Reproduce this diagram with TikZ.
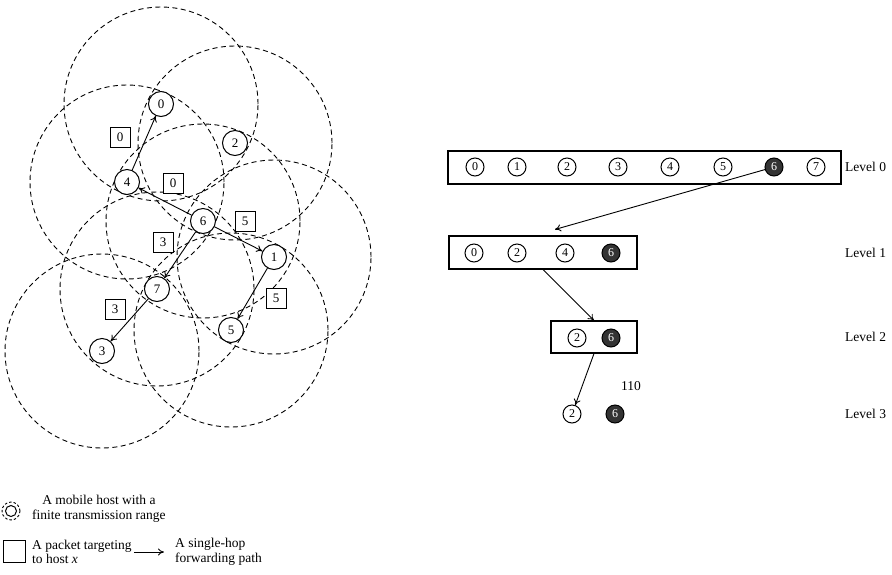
\documentclass[tikz,border=0pt]{standalone}
\usepackage{fontspec}
\setmainfont{Liberation Serif}
\usetikzlibrary{
  arrows.meta,
  calc,
}
\tikzset{
  reach/.style={dash pattern=on 5pt off 3.5pt, line width=0.9pt},
  host/.style={circle, draw, fill=white, line width=1pt, minimum size=25pt, inner sep=0pt, font=\fontsize{13}{15}\selectfont},
  packet/.style={rectangle, draw, fill=white, line width=1pt, minimum size=20pt, inner sep=0pt, font=\fontsize{13}{15}\selectfont},
  hop/.style={-{To[length=6pt,width=7pt]}, line width=0.9pt},
  slot/.style={circle, draw, fill=white, line width=1pt, minimum size=18pt, inner sep=0pt, font=\fontsize{12}{14}\selectfont},
  hot/.style={slot, fill=black!80, text=white},
  tier/.style={rectangle, draw, line width=1.1pt, minimum height=33pt, inner sep=0pt},
  caption/.style={anchor=west, inner sep=2pt, font=\fontsize{13.5}{14.5}\selectfont},
}
\def\hostlist{0/161/104, 1/274/257, 2/235/143, 3/102/351, 4/127/182, 5/231/330, 6/203/221, 7/157/289}

\begin{document}
\begin{tikzpicture}[x=1pt, y=-1pt, font=\fontsize{13.5}{15}\selectfont]
\useasboundingbox (0,0) rectangle (892,574);
\foreach \n/\x/\y in \hostlist {\draw[reach] (\x,\y) circle[radius=97pt];}
\foreach \n/\x/\y in \hostlist {\node[host] (h\n) at (\x,\y) {\n};}
\node[packet] (p0a) at (120,137) {0};
\node[packet] (p0b) at (173,183) {0};
\node[packet] (p5a) at (245,221) {5};
\node[packet] (p3a) at (163,242) {3};
\node[packet] (p3b) at (115,309) {3};
\node[packet] (p5b) at (276,298) {5};
\foreach \a/\b in {4/0, 6/4, 6/1, 6/7, 7/3, 1/5} \draw[hop] (h\a) -- (h\b);

\node[tier, minimum width=393pt] (L0) at (644.5,167.5) {};
\node[tier, minimum width=188pt] (L1) at (543,252.5) {};
\node[tier, minimum width=86pt, minimum height=32pt] (L2) at (594,337) {};
\foreach \n/\x/\s in {0/475/slot, 1/517/slot, 2/567/slot, 3/618/slot, 4/670/slot, 5/723/slot, 6/774/hot, 7/816/slot} \node[\s] (a\n) at (\x,167) {\n};
\foreach \n/\x/\s in {0/474/slot, 2/517/slot, 4/565/slot, 6/611/hot} \node[\s] (b\n) at (\x,253) {\n};
\foreach \n/\x/\s in {2/577/slot, 6/611/hot} \node[\s] (c\n) at (\x,338) {\n};
\foreach \n/\x/\s in {2/572/slot, 6/615/hot} \node[\s] (d\n) at (\x,414) {\n};
\node (code) at (631,386) {110};
\foreach \k/\y in {0/167, 1/253, 2/337, 3/414} \node[caption] (lv\k) at (843,\y) {Level \k};
\draw[hop] (a6) -- ($(L1.north)+(12,-6)$);
\draw[hop] (L1.south) -- (L2.north);
\draw[hop] (L2.south) -- (d2);

\node[circle, draw, line width=1pt, minimum size=11pt, inner sep=0pt] (lh) at (11,511) {};
\draw[reach, dash pattern=on 2.5pt off 2pt] (lh) circle[radius=9pt];
\node[caption, align=center] (lht) at (30,509) {A mobile host with a\\finite transmission range};
\node[packet, minimum size=22pt] (lp) at (14.5,551) {};
\node[caption, align=left] (lpt) at (30,552) {A packet targeting\\to host \textit{x}};
\node[caption, align=left] (lat) at (173,552) {A single-hop\\forwarding path};
\draw[hop] (lpt.east) -- ([xshift=-9pt]lat.west);
\end{tikzpicture}
\end{document}
